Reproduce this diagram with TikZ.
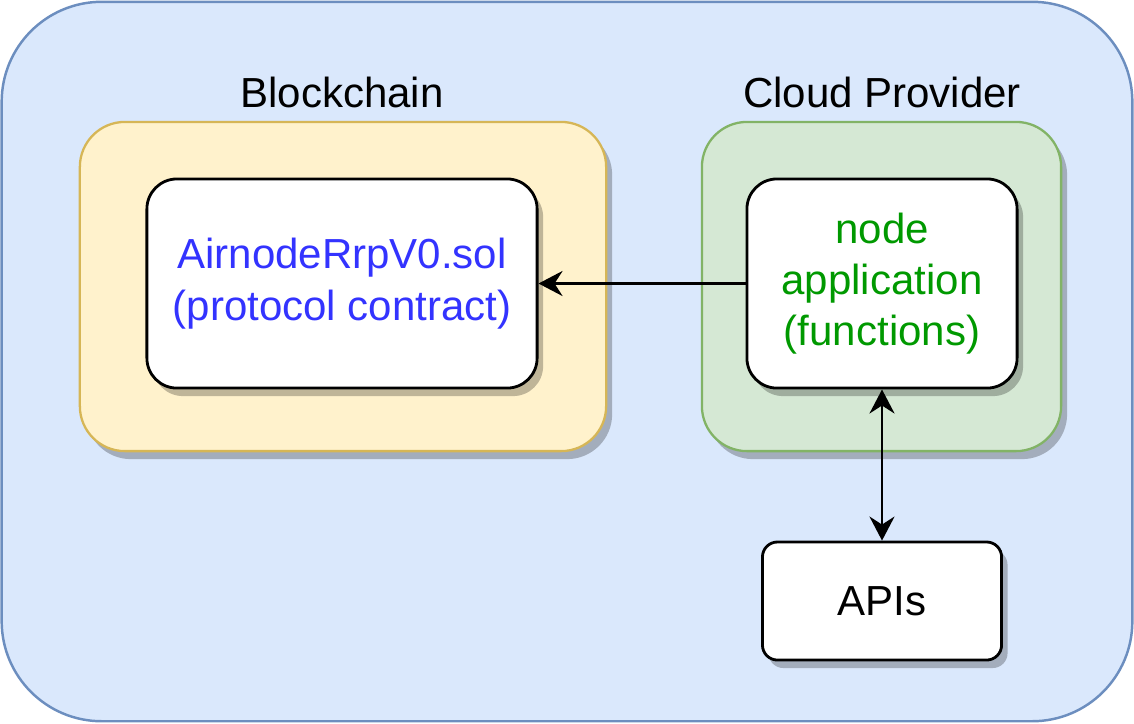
\documentclass[tikz,border=0pt]{standalone}
\usepackage{fontspec}
\setmainfont{Liberation Sans}
\usetikzlibrary{arrows.meta,shadows}

\definecolor{outerfill}{HTML}{DAE8FC}
\definecolor{outerline}{HTML}{6C8EBF}
\definecolor{chainfill}{HTML}{FFF2CC}
\definecolor{chainline}{HTML}{D6B656}
\definecolor{cloudfill}{HTML}{D5E8D4}
\definecolor{cloudline}{HTML}{82B366}
\definecolor{contracttext}{HTML}{3333FF}
\definecolor{apptext}{HTML}{009900}

\tikzset{
	shade box/.style={drop shadow={shadow xshift=0.06cm, shadow yshift=-0.08cm, opacity=0.25, fill=black}},
	group box/.style={shade box, rectangle, rounded corners=0.45cm, line width=0.65pt, inner sep=0pt},
	inner box/.style={shade box, rectangle, rounded corners=0.3cm, draw=black, fill=white, line width=0.8pt, inner sep=0pt, align=center},
	big text/.style={font=\fontsize{11.95}{14.6}\selectfont},
	tip/.tip={Stealth[length=0.24cm, width=0.25cm, inset=0.08cm]},
	link/.style={line width=0.8pt}
}

\begin{document}
\begin{tikzpicture}[x=0.01cm, y=-0.01cm]
					\useasboundingbox (0,0) rectangle (1134,723);

					% outer frame
					\node [rectangle, rounded corners=1cm, draw=outerline, fill=outerfill, line width=0.7pt, minimum width=11.3cm, minimum height=7.19cm] (frame) at (567,361.5) {};

					% groups
					\node [group box, draw=chainline, fill=chainfill, minimum width=5.26cm, minimum height=3.29cm] (chain) at (343,286.5) {};
					\node [group box, draw=cloudline, fill=cloudfill, minimum width=3.59cm, minimum height=3.29cm] (cloud) at (881.5,286.5) {};
					\node [big text] (chaintitle) at (342,92) {Blockchain};
					\node [big text] (cloudtitle) at (882,92) {Cloud Provider};

					% boxes
					\node [inner box, big text, text=contracttext, minimum width=3.9cm, minimum height=2.09cm] (contract) at (342,283.5) {AirnodeRrpV0.sol\\(protocol contract)};
					\node [inner box, big text, text=apptext, minimum width=2.7cm, minimum height=2.09cm] (app) at (882,283.5) {node\\application\\(functions)};
					\node [inner box, big text, rounded corners=0.15cm, minimum width=2.39cm, minimum height=1.18cm] (apis) at (882,601) {APIs};

					% connectors
					\draw [link, tip-] (contract.east) -- (contract.east -| app.west);
					\draw [link, tip-tip] (app.south) -- (apis.north);
				\end{tikzpicture}
\end{document}
